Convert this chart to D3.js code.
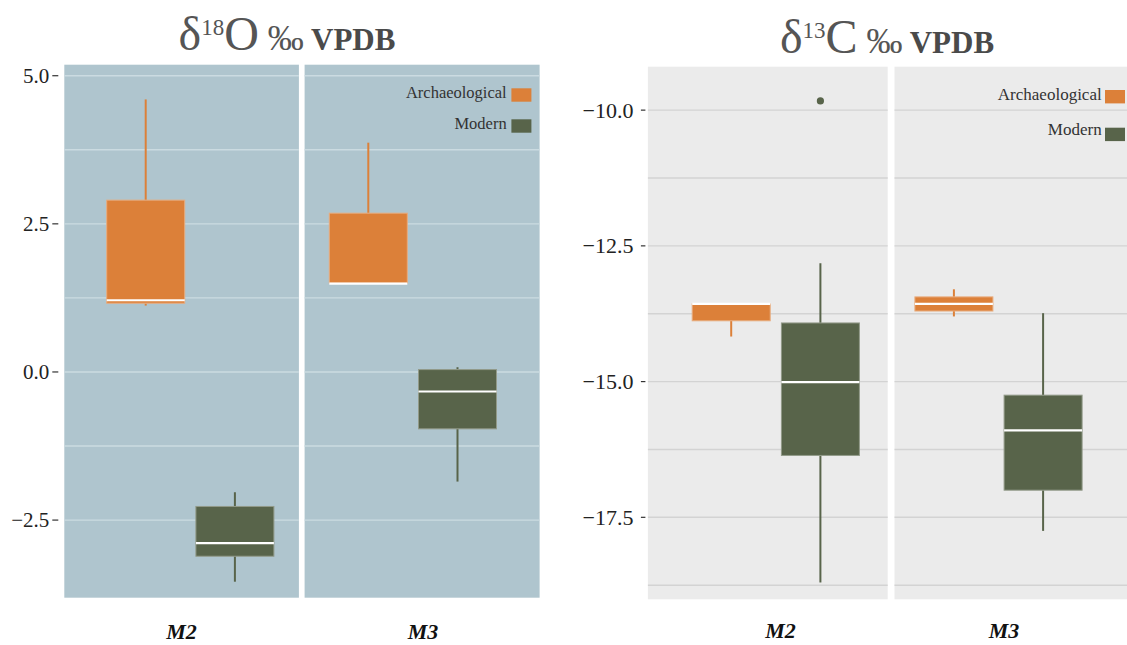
<!DOCTYPE html>
<html><head><meta charset="utf-8">
<script src="https://cdn.jsdelivr.net/npm/d3@7"></script>
<style>
html,body{margin:0;padding:0;background:#fff;}
svg{display:block;}
</style></head>
<body>
<svg id="chart" width="1127" height="645"></svg>
<script>
// ---------------- DATA ----------------
const categories = ["M2", "M3"];
const groups = ["Archaeological", "Modern"];
// [lower whisker, Q1, median, Q3, upper whisker] for each category
const d18O_Archaeological = [[1.12, 1.16, 1.21, 2.90, 4.60], [1.49, 1.50, 1.49, 2.68, 3.87]];
const d18O_Modern         = [[-3.54, -3.11, -2.89, -2.27, -2.03], [-1.85, -0.96, -0.33, 0.04, 0.08]];
const d13C_Archaeological = [[-14.17, -13.88, -13.57, -13.57, -13.57], [-13.80, -13.70, -13.57, -13.44, -13.30]];
const d13C_Modern         = [[-18.70, -16.36, -15.01, -13.92, -12.82], [-17.75, -17.00, -15.90, -15.25, -13.74]];
const d13C_Modern_outliers = [[-9.83], []];
const d18O_ticks = [5.0, 2.5, 0.0, -2.5];
const d13C_ticks = [-10.0, -12.5, -15.0, -17.5];
const d18O_grid = [5.0, 3.75, 2.5, 1.25, 0.0, -1.25, -2.5];
const d13C_grid = [-10.0, -11.25, -12.5, -13.75, -15.0, -16.25, -17.5, -18.75];

// ---------------- STYLE / LAYOUT ----------------
const colors = {Archaeological: "#DC8039", Modern: "#58644A"};
const serif = "'Liberation Serif','Times New Roman',serif";

const charts = [
  {
    title: {sup: "18", el: "O", cx: 287, base: 50},
    arch: d18O_Archaeological, mod: d18O_Modern, outliers: [[], []],
    ticks: d18O_ticks, grid: d18O_grid,
    domain: [5.186, -3.81], top: 64.7, bottom: 597.7,
    panels: [{x0: 64.3, w: 234.6, off: 36.8, lab: 117.3}, {x0: 304.6, w: 235, off: 19.1, lab: 118.4}],
    bg: "#AFC5CE", gridColor: "#cbdbe1",
    tick: {lineFrom: 12, lineTo: 6, labelGap: 15, size: 21},
    legend: {xEnd: 506.7, base: [98.3, 129.3], sq: [88.3, 119.3], size: 16.5, gap: 4.7},
    xlabBase: 639
  },
  {
    title: {sup: "13", el: "C", cx: 887, base: 53},
    arch: d13C_Archaeological, mod: d13C_Modern, outliers: d13C_Modern_outliers,
    ticks: d13C_ticks, grid: d13C_grid,
    domain: [-9.20, -19.01], top: 66.7, bottom: 599.3,
    panels: [{x0: 647.9, w: 239.8, off: 38.7, lab: 132.6}, {x0: 894.5, w: 239.8, off: 14.8, lab: 109.5}],
    bg: "#EBEBEB", gridColor: "#d3d3d3",
    tick: {lineFrom: 7, lineTo: 2.5, labelGap: 14.5, size: 22},
    legend: {xEnd: 1101.7, base: [100, 135], sq: [90, 127.7], size: 17, gap: 3.3},
    xlabBase: 638
  }
];

const svg = d3.select("#chart");
const fmt = d3.format(".1f");

charts.forEach(ch => {
  const g = svg.append("g");
  const y = d3.scaleLinear().domain(ch.domain).range([ch.top, ch.bottom]);

  // title
  const t = g.append("text").attr("x", ch.title.cx).attr("y", ch.title.base)
    .attr("text-anchor", "middle").attr("font-family", serif).attr("fill", "#555");
  t.append("tspan").attr("font-size", 48).text("δ");
  t.append("tspan").attr("font-size", 23).attr("dy", -15).text(ch.title.sup);
  t.append("tspan").attr("font-size", 48).attr("dy", 15).text(ch.title.el);
  t.append("tspan").attr("font-size", 36).text(" ‰");
  t.append("tspan").attr("font-size", 31).attr("font-weight", "bold").attr("fill", "#4a4a4a").text(" VPDB");

  ch.panels.forEach((p, i) => {
    const pg = g.append("g");
    pg.append("rect").attr("x", p.x0).attr("y", ch.top).attr("width", p.w)
      .attr("height", ch.bottom - ch.top).attr("fill", ch.bg);
    pg.selectAll("line.grid").data(ch.grid).join("line").attr("class", "grid")
      .attr("x1", p.x0).attr("x2", p.x0 + p.w)
      .attr("y1", d => y(d)).attr("y2", d => y(d))
      .attr("stroke", ch.gridColor).attr("stroke-width", 1.4);

    const x = d3.scaleBand().domain(groups)
      .range([p.x0 + p.off, p.x0 + p.off + 2 * 89.2])
      .paddingInner(11.2 / 89.2).paddingOuter(5.6 / 89.2);

    const boxes = [
      {group: "Archaeological", s: ch.arch[i], out: []},
      {group: "Modern", s: ch.mod[i], out: ch.outliers[i]}
    ];
    boxes.forEach(b => {
      const c = colors[b.group];
      const bx = x(b.group), bw = x.bandwidth(), cx = bx + bw / 2;
      const [lo, q1, med, q3, hi] = b.s;
      pg.append("line").attr("x1", cx).attr("x2", cx).attr("y1", y(hi)).attr("y2", y(q3))
        .attr("stroke", c).attr("stroke-width", 2);
      pg.append("line").attr("x1", cx).attr("x2", cx).attr("y1", y(q1)).attr("y2", y(lo))
        .attr("stroke", c).attr("stroke-width", 2);
      pg.append("rect").attr("x", bx).attr("y", y(q3)).attr("width", bw)
        .attr("height", Math.max(0.5, y(q1) - y(q3)))
        .attr("fill", c).attr("stroke", d3.interpolateRgb(c, "#ffffff")(0.35)).attr("stroke-width", 1);
      pg.append("line").attr("x1", bx).attr("x2", bx + bw).attr("y1", y(med)).attr("y2", y(med))
        .attr("stroke", "#ffffff").attr("stroke-width", 2.2);
      pg.selectAll(null).data(b.out).join("circle")
        .attr("cx", cx).attr("cy", d => y(d)).attr("r", 3.6).attr("fill", c);
    });

    // x category label
    pg.append("text").attr("x", p.x0 + p.lab).attr("y", ch.xlabBase)
      .attr("text-anchor", "middle").attr("font-family", serif)
      .attr("font-weight", "bold").attr("font-style", "italic")
      .attr("font-size", 22).attr("fill", "#111").text(categories[i]);
  });

  // y axis ticks
  const x0 = ch.panels[0].x0;
  const ax = g.append("g");
  ax.selectAll("line").data(ch.ticks).join("line")
    .attr("x1", x0 - ch.tick.lineFrom).attr("x2", x0 - ch.tick.lineTo)
    .attr("y1", d => y(d)).attr("y2", d => y(d))
    .attr("stroke", "#333").attr("stroke-width", 1.2);
  ax.selectAll("text").data(ch.ticks).join("text")
    .attr("x", x0 - ch.tick.labelGap).attr("y", d => y(d) + ch.tick.size * 0.34)
    .attr("text-anchor", "end").attr("font-family", serif).attr("font-size", ch.tick.size)
    .attr("fill", "#222").text(d => fmt(d));

  // legend
  const L = ch.legend;
  groups.forEach((gname, k) => {
    g.append("text").attr("x", L.xEnd).attr("y", L.base[k]).attr("text-anchor", "end")
      .attr("font-family", serif).attr("font-size", L.size).attr("fill", "#333").text(gname);
    g.append("rect").attr("x", L.xEnd + L.gap).attr("y", L.sq[k]).attr("width", 20).attr("height", 13.4)
      .attr("fill", colors[gname]);
  });
});
</script>
</body></html>
